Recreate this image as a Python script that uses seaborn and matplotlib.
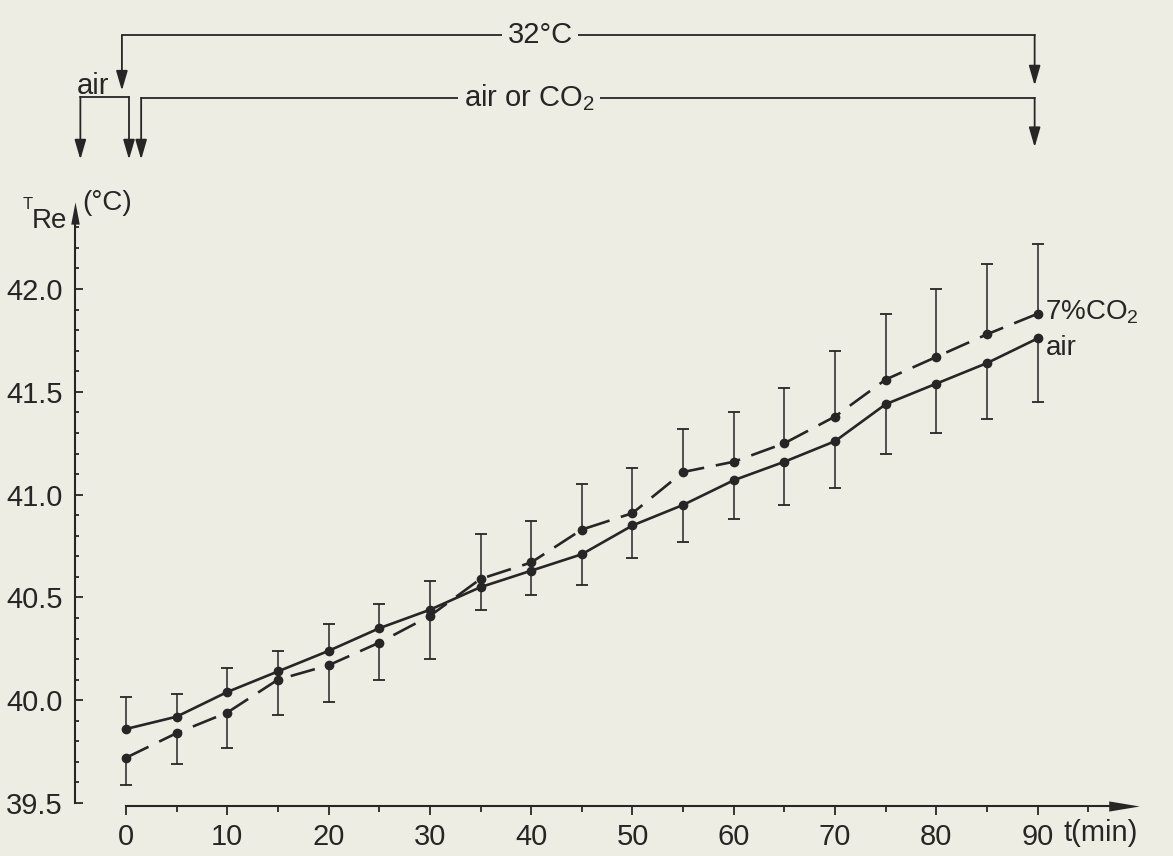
import matplotlib.pyplot as plt
import numpy as np
import pandas as pd
import seaborn as sns

# rectal temperature (°C) every 5 min, air vs 7% CO2
minutes = [0, 5, 10, 15, 20, 25, 30, 35, 40, 45, 50, 55, 60, 65, 70, 75, 80, 85, 90]
air_temp = [39.86, 39.92, 40.04, 40.14, 40.24, 40.35, 40.44, 40.55, 40.63, 40.71,
            40.85, 40.95, 41.07, 41.16, 41.26, 41.44, 41.54, 41.64, 41.76]
co2_temp = [39.72, 39.84, 39.94, 40.10, 40.17, 40.28, 40.41, 40.59, 40.67, 40.83,
            40.91, 41.11, 41.16, 41.25, 41.38, 41.56, 41.67, 41.78, 41.88]

# one-sided error bars, drawn away from the other curve
air_err_up = [0.155, 0.11, 0.115, 0.10, 0.13, 0.12, 0.14, 0, 0, 0,
              0, 0, 0, 0, 0, 0, 0, 0, 0]
air_err_down = [0, 0, 0, 0, 0, 0, 0, 0.11, 0.12, 0.15,
                0.16, 0.18, 0.19, 0.21, 0.23, 0.24, 0.24, 0.27, 0.31]
co2_err_up = [0, 0, 0, 0, 0, 0, 0, 0.22, 0.20, 0.22,
              0.22, 0.21, 0.24, 0.27, 0.32, 0.32, 0.33, 0.34, 0.34]
co2_err_down = [0.13, 0.15, 0.17, 0.17, 0.18, 0.18, 0.21, 0, 0, 0,
                0, 0, 0, 0, 0, 0, 0, 0, 0]

y_ticks = [39.5, 40.0, 40.5, 41.0, 41.5, 42.0]
x_ticks = [0, 10, 20, 30, 40, 50, 60, 70, 80, 90]

paper = "#eeede4"
ink = "#262626"

sns.set_theme(style="ticks")
plt.rcParams["font.family"] = ["Liberation Sans", "DejaVu Sans"]
plt.rcParams["axes.facecolor"] = paper
plt.rcParams["figure.facecolor"] = paper

fig = plt.figure(figsize=(11.73, 8.56), dpi=100)
ax = fig.add_axes([0.0642, 0.0619, 0.9068, 0.7085])
ax.set_xlim(-5, 100)
ax.set_ylim(39.5, 42.45)

df = pd.DataFrame({
    "t": minutes * 2,
    "temp": air_temp + co2_temp,
    "gas": ["air"] * len(minutes) + ["co2"] * len(minutes),
})
sns.lineplot(data=df, x="t", y="temp", style="gas",
             dashes={"air": "", "co2": (9.5, 4.5)},
             markers={"air": "o", "co2": "o"},
             color=ink, linewidth=1.9, markersize=7, markeredgewidth=0,
             legend=False, ax=ax, clip_on=False)

# error bars
t = np.array(minutes)
for temp, up, down in [(air_temp, air_err_up, air_err_down),
                       (co2_temp, co2_err_up, co2_err_down)]:
    temp, up, down = np.array(temp), np.array(up), np.array(down)
    m = up > 0
    ax.vlines(t[m], temp[m], temp[m] + up[m], color=ink, lw=1.1, clip_on=False)
    ax.plot(t[m], temp[m] + up[m], "_", color=ink, ms=9, mew=1.3, clip_on=False)
    m = down > 0
    ax.vlines(t[m], temp[m] - down[m], temp[m], color=ink, lw=1.1, clip_on=False)
    ax.plot(t[m], temp[m] - down[m], "_", color=ink, ms=9, mew=1.3, clip_on=False)

# axes styling
for side in ["top", "right"]:
    ax.spines[side].set_visible(False)
for side in ["left", "bottom"]:
    ax.spines[side].set_color(ink)
    ax.spines[side].set_linewidth(1.5)
ax.spines["left"].set_bounds(39.5, 42.35)
ax.spines["bottom"].set_bounds(0, 98)
ax.spines["bottom"].set_position(("outward", 2))

ax.set_yticks(y_ticks)
ax.set_yticklabels([f"{v:.1f}" for v in y_ticks])
ax.set_yticks(np.arange(39.6, 42.35, 0.1), minor=True)
ax.set_xticks(x_ticks)
ax.set_xticklabels([str(v) for v in x_ticks])
ax.set_xticks([5, 15, 25, 35, 45, 55, 65, 75, 85, 95], minor=True)
ax.tick_params(axis="y", which="both", direction="in", color=ink, width=1.3,
               labelsize=21, labelcolor=ink, pad=9)
ax.tick_params(axis="y", which="major", length=6)
ax.tick_params(axis="y", which="minor", length=3)
ax.tick_params(axis="x", which="both", direction="out", color=ink, width=1.3,
               labelsize=21, labelcolor=ink, pad=6)
ax.tick_params(axis="x", which="major", length=6.5)
ax.tick_params(axis="x", which="minor", length=4.5)
ax.set_xlabel("")
ax.set_ylabel("")

# axis arrow heads
ax.plot([-5], [42.37], marker=[(-1, -2.6), (0, 2.6), (1, -2.6)], ms=16,
        color=ink, mew=0, clip_on=False)
ax.plot([98.5], [39.5], marker=[(-3, -1), (3, 0), (-3, 1)], ms=22,
        color=ink, mew=0, clip_on=False,
        transform=ax.transData + plt.matplotlib.transforms.ScaledTranslation(
            0, -2 / 72, fig.dpi_scale_trans))

ax.annotate("t(min)", xy=(92.5, 39.5), xytext=(0, -11.5), textcoords="offset points",
            ha="left", va="top", fontsize=21, color=ink, annotation_clip=False)
ax.text(-10.2, 42.41, "T", fontsize=12, color=ink, ha="left", va="center")
ax.text(-9.3, 42.33, "Re", fontsize=20, color=ink, ha="left", va="center")
ax.text(-4.3, 42.42, "(°C)", fontsize=20, color=ink, ha="left", va="center")

# series labels
ax.text(90.7, 41.85, "7%CO$\\mathregular{_2}$", fontsize=20, color=ink,
        ha="left", va="baseline")
ax.text(90.8, 41.68, "air", fontsize=20, color=ink, ha="left", va="baseline")

# exposure scheme above the plot
y1, y2 = 43.235, 42.93
arrow = dict(arrowstyle="-|>,head_length=1.2,head_width=0.35", color=ink, lw=1.3,
             shrinkA=0, shrinkB=0, mutation_scale=10)
ax.plot([-0.4, 89.7], [y1, y1], color=ink, lw=1.3, clip_on=False)
ax.plot([1.5, 89.7], [y2, y2], color=ink, lw=1.3, clip_on=False)
ax.plot([-4.5, 0.3], [y2 + 0.005, y2 + 0.005], color=ink, lw=1.3, clip_on=False)
for x0, top, tip in [(-0.4, y1, 42.965), (89.7, y1, 42.99),
                     (89.7, y2, 42.69), (1.5, y2, 42.63),
                     (-4.5, y2 + 0.005, 42.63), (0.3, y2 + 0.005, 42.63)]:
    ax.annotate("", xy=(x0, tip), xytext=(x0, top), arrowprops=arrow,
                annotation_clip=False)
box = dict(facecolor=paper, edgecolor="none", pad=4)
ax.text(40.9, y1, "32°C", fontsize=21, color=ink, ha="center", va="center",
        bbox=box)
ax.text(39.8, y2, "air or CO$\\mathregular{_2}$", fontsize=21, color=ink,
        ha="center", va="center", bbox=box)
ax.text(-3.3, 42.99, "air", fontsize=21, color=ink, ha="center", va="center")

fig.savefig("out.png", dpi=100, facecolor=paper)
